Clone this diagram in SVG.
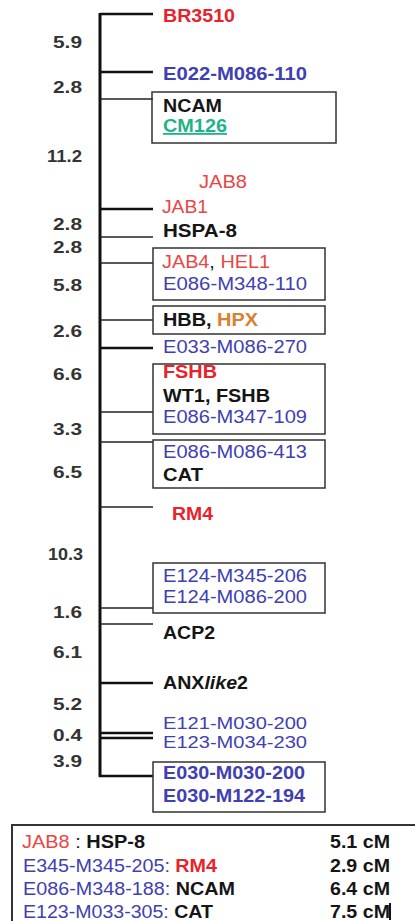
<svg xmlns="http://www.w3.org/2000/svg" width="415" height="921" viewBox="0 0 415 921">
<style>
text{font-family:"Liberation Sans",Arial,sans-serif;font-size:18px}
.b{font-weight:bold}
.r{fill:#e8232b}
.rl{fill:#e94646}
.u{fill:#4040b2}
.k{fill:#151515}
.o{fill:#d9812e}
.g{fill:#1fb38a}
.d{fill:#333;font-weight:bold;text-anchor:end;font-size:17px}
.box{fill:none;stroke:#333;stroke-width:1.5}
.t1{stroke:#222;stroke-width:1.5}
.t2{stroke:#111;stroke-width:2.5}
.lg{font-size:18px}
.sm{font-size:16.5px}
</style>
<g id="connectors">
<line x1="100" y1="13" x2="100" y2="777" stroke="#111" stroke-width="3"/>
<line class="t2" x1="100" y1="14" x2="153" y2="14"/>
<line class="t2" x1="100" y1="72" x2="153" y2="72"/>
<line class="t1" x1="100" y1="99" x2="153" y2="99"/>
<line class="t2" x1="100" y1="209" x2="153" y2="209"/>
<line class="t1" x1="100" y1="237" x2="153" y2="237"/>
<line class="t1" x1="100" y1="263" x2="153" y2="263"/>
<line class="t1" x1="100" y1="320" x2="153" y2="320"/>
<line class="t2" x1="100" y1="348" x2="153" y2="348"/>
<line class="t1" x1="100" y1="412" x2="153" y2="412"/>
<line class="t1" x1="100" y1="442" x2="153" y2="442"/>
<line class="t1" x1="100" y1="507" x2="153" y2="507"/>
<line class="t1" x1="100" y1="608" x2="153" y2="608"/>
<line class="t1" x1="100" y1="624" x2="153" y2="624"/>
<line class="t2" x1="100" y1="683" x2="153" y2="683"/>
<line class="t2" x1="100" y1="733" x2="153" y2="733"/>
<line class="t2" x1="100" y1="738" x2="153" y2="738"/>
<line class="t2" x1="99" y1="776" x2="153" y2="776"/>
</g>
<g id="distances">
<text class="d" x="82" y="48" textLength="29" lengthAdjust="spacingAndGlyphs">5.9</text>
<text class="d" x="82" y="93" textLength="29" lengthAdjust="spacingAndGlyphs">2.8</text>
<text class="d" x="82" y="162" textLength="35" lengthAdjust="spacingAndGlyphs">11.2</text>
<text class="d" x="82" y="230" textLength="29" lengthAdjust="spacingAndGlyphs">2.8</text>
<text class="d" x="82" y="253" textLength="29" lengthAdjust="spacingAndGlyphs">2.8</text>
<text class="d" x="82" y="291" textLength="29" lengthAdjust="spacingAndGlyphs">5.8</text>
<text class="d" x="82" y="337" textLength="29" lengthAdjust="spacingAndGlyphs">2.6</text>
<text class="d" x="82" y="380" textLength="29" lengthAdjust="spacingAndGlyphs">6.6</text>
<text class="d" x="82" y="435" textLength="29" lengthAdjust="spacingAndGlyphs">3.3</text>
<text class="d" x="82" y="478" textLength="29" lengthAdjust="spacingAndGlyphs">6.5</text>
<text class="d" x="83" y="560" textLength="35" lengthAdjust="spacingAndGlyphs">10.3</text>
<text class="d" x="82" y="618" textLength="29" lengthAdjust="spacingAndGlyphs">1.6</text>
<text class="d" x="82" y="658" textLength="29" lengthAdjust="spacingAndGlyphs">6.1</text>
<text class="d" x="82" y="710" textLength="29" lengthAdjust="spacingAndGlyphs">5.2</text>
<text class="d" x="82" y="741" textLength="29" lengthAdjust="spacingAndGlyphs">0.4</text>
<text class="d" x="82" y="767" textLength="29" lengthAdjust="spacingAndGlyphs">3.9</text>
</g>
<g id="BR3510"><text class="b r" x="163" y="22" textLength="72" lengthAdjust="spacingAndGlyphs">BR3510</text></g>
<g id="E022"><text class="b u" x="163" y="80" textLength="144" lengthAdjust="spacingAndGlyphs">E022-M086-110</text></g>
<g id="NCAM">
<rect class="box" x="152" y="92" width="184" height="51"/>
<text class="b k" x="163" y="112" textLength="59" lengthAdjust="spacingAndGlyphs">NCAM</text>
<text class="b g" x="163" y="132" textLength="64" lengthAdjust="spacingAndGlyphs" text-decoration="underline">CM126</text>
</g>
<g id="JAB8"><text class="rl" x="199" y="188" textLength="48" lengthAdjust="spacingAndGlyphs">JAB8</text></g>
<g id="JAB1"><text class="rl" x="162" y="213" textLength="46" lengthAdjust="spacingAndGlyphs">JAB1</text></g>
<g id="HSPA8"><text class="b k" x="163" y="237" textLength="74" lengthAdjust="spacingAndGlyphs">HSPA-8</text></g>
<g id="JAB4">
<rect class="box" x="153" y="248" width="172" height="52"/>
<text x="162" y="268" textLength="108" lengthAdjust="spacingAndGlyphs"><tspan class="rl">JAB4</tspan><tspan class="k">, </tspan><tspan class="rl">HEL1</tspan></text>
<text class="u" x="163" y="290" textLength="144" lengthAdjust="spacingAndGlyphs">E086-M348-110</text>
</g>
<g id="HBB">
<rect class="box" x="153" y="306" width="172" height="28"/>
<text class="b" x="163" y="326" textLength="95" lengthAdjust="spacingAndGlyphs"><tspan class="k">HBB, </tspan><tspan class="o">HPX</tspan></text>
</g>
<g id="E033"><text class="u" x="163" y="353" textLength="144" lengthAdjust="spacingAndGlyphs">E033-M086-270</text></g>
<g id="FSHB">
<rect class="box" x="153" y="364" width="172" height="70"/>
<text class="b r" x="163" y="378" textLength="54" lengthAdjust="spacingAndGlyphs">FSHB</text>
<text class="b k" x="163" y="402" textLength="107" lengthAdjust="spacingAndGlyphs">WT1, FSHB</text>
<text class="u" x="163" y="423" textLength="144" lengthAdjust="spacingAndGlyphs">E086-M347-109</text>
</g>
<g id="CAT">
<rect class="box" x="153" y="440" width="172" height="48"/>
<text class="u" x="163" y="458" textLength="144" lengthAdjust="spacingAndGlyphs">E086-M086-413</text>
<text class="b k" x="163" y="481" textLength="40" lengthAdjust="spacingAndGlyphs">CAT</text>
</g>
<g id="RM4"><text class="b r" x="172" y="520" textLength="41" lengthAdjust="spacingAndGlyphs">RM4</text></g>
<g id="E124">
<rect class="box" x="153" y="563" width="172" height="50"/>
<text class="u" x="163" y="582" textLength="144" lengthAdjust="spacingAndGlyphs">E124-M345-206</text>
<text class="u" x="163" y="603" textLength="144" lengthAdjust="spacingAndGlyphs">E124-M086-200</text>
</g>
<g id="ACP2"><text class="b k" x="163" y="639" textLength="52" lengthAdjust="spacingAndGlyphs">ACP2</text></g>
<g id="ANX"><text class="b k" x="163" y="689" textLength="85" lengthAdjust="spacingAndGlyphs">ANX<tspan font-style="italic">like</tspan>2</text></g>
<g id="E121">
<text class="u sm" x="163" y="729" textLength="144" lengthAdjust="spacingAndGlyphs">E121-M030-200</text>
<text class="u sm" x="163" y="748" textLength="144" lengthAdjust="spacingAndGlyphs">E123-M034-230</text>
</g>
<g id="E030">
<rect class="box" x="153" y="762" width="172" height="50"/>
<text class="b u" x="163" y="779" textLength="142" lengthAdjust="spacingAndGlyphs">E030-M030-200</text>
<text class="b u" x="163" y="802" textLength="142" lengthAdjust="spacingAndGlyphs">E030-M122-194</text>
</g>
<g id="legend">
<path d="M420 825 H12 V925" fill="none" stroke="#333" stroke-width="2"/>
<text class="lg" x="22" y="848" textLength="123" lengthAdjust="spacingAndGlyphs"><tspan class="rl">JAB8</tspan><tspan class="k"> : </tspan><tspan class="b k">HSP-8</tspan></text>
<text class="lg" x="23" y="872" textLength="194" lengthAdjust="spacingAndGlyphs"><tspan class="u">E345-M345-205: </tspan><tspan class="b r">RM4</tspan></text>
<text class="lg" x="23" y="895" textLength="212" lengthAdjust="spacingAndGlyphs"><tspan class="u">E086-M348-188: </tspan><tspan class="b k">NCAM</tspan></text>
<text class="lg" x="23" y="918" textLength="190" lengthAdjust="spacingAndGlyphs"><tspan class="u">E123-M033-305: </tspan><tspan class="b k">CAT</tspan></text>
<text class="lg b k" x="330" y="848" textLength="60" lengthAdjust="spacingAndGlyphs">5.1 cM</text>
<text class="lg b k" x="330" y="872" textLength="60" lengthAdjust="spacingAndGlyphs">2.9 cM</text>
<text class="lg b k" x="330" y="895" textLength="60" lengthAdjust="spacingAndGlyphs">6.4 cM</text>
<text class="lg b k" x="330" y="918" textLength="60" lengthAdjust="spacingAndGlyphs">7.5 cM</text>
<line x1="390" y1="903" x2="390" y2="920" stroke="#111" stroke-width="2"/>
</g>
</svg>
